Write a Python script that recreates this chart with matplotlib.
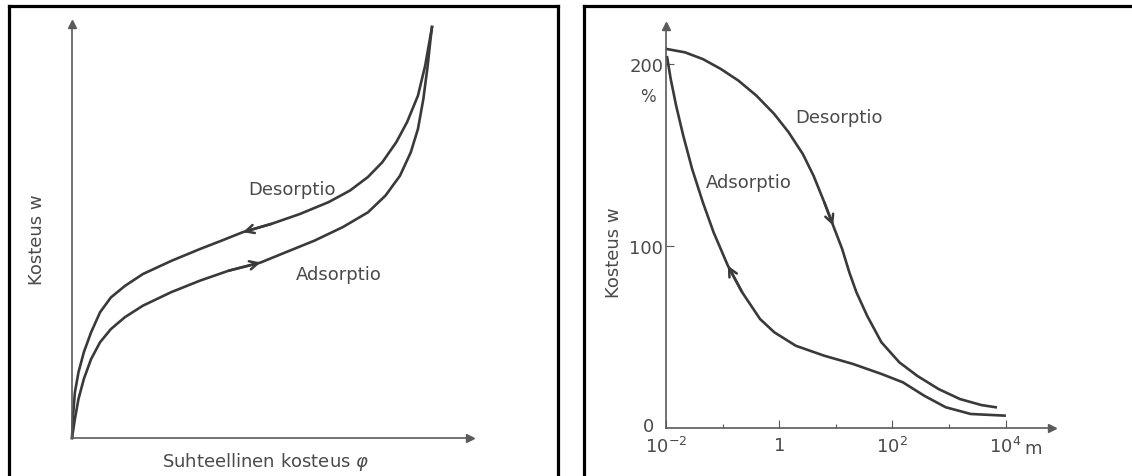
import numpy as np
import matplotlib.pyplot as plt
from matplotlib.lines import Line2D

# vasen kuva: sorptiokäyrät, suhteellinen kosteus phi (0..1) ja kosteus w (0..1)
des_phi = [0.0, 0.003, 0.008, 0.018, 0.033, 0.053, 0.078, 0.108, 0.147, 0.197, 0.276, 0.356, 0.415,
           0.475, 0.554, 0.633, 0.713, 0.772, 0.822, 0.862, 0.901, 0.931, 0.961, 0.981, 1.0]
des_w = [0.0, 0.055, 0.111, 0.160, 0.209, 0.257, 0.306, 0.342, 0.370, 0.399, 0.431, 0.460, 0.480,
         0.501, 0.521, 0.545, 0.574, 0.602, 0.635, 0.671, 0.720, 0.769, 0.833, 0.906, 1.0]
ads_phi = [0.0, 0.008, 0.018, 0.033, 0.053, 0.078, 0.108, 0.147, 0.197, 0.276, 0.356, 0.435, 0.524,
           0.594, 0.673, 0.752, 0.822, 0.871, 0.911, 0.941, 0.961, 0.976, 0.988, 0.996, 1.0]
ads_w = [0.0, 0.046, 0.095, 0.144, 0.192, 0.233, 0.265, 0.294, 0.322, 0.355, 0.383, 0.407, 0.427,
         0.452, 0.480, 0.513, 0.549, 0.590, 0.638, 0.695, 0.752, 0.825, 0.906, 0.971, 1.0]

# oikea kuva: kosteus w (%) imupaineen m funktiona, m = 10**eksponentti
des_exp = [-1.98, -1.664, -1.349, -1.033, -0.717, -0.402, -0.087, 0.166, 0.418, 0.607, 0.797, 0.954,
           1.112, 1.239, 1.364, 1.553, 1.806, 2.122, 2.437, 2.816, 3.194, 3.573, 3.825]
des_pct = [208.2, 206.4, 202.7, 197.3, 190.8, 182.6, 172.5, 162.5, 150.5, 138.6, 124.0, 111.2,
           98.4, 85.5, 74.6, 61.7, 47.1, 36.1, 28.7, 21.4, 15.9, 12.6, 11.4]
ads_exp = [-1.98, -1.917, -1.821, -1.695, -1.538, -1.349, -1.159, -0.907, -0.655, -0.339, -0.087,
           0.292, 0.797, 1.302, 1.806, 2.185, 2.564, 2.942, 3.384, 3.982]
ads_pct = [203.7, 191.8, 177.1, 160.6, 142.3, 124.0, 107.5, 89.2, 74.6, 59.9, 52.6,
           45.2, 39.7, 35.2, 29.7, 25.1, 17.7, 11.4, 7.7, 6.8]

x_ticks = [1e-2, 1, 1e2, 1e4]
x_labels = [r'$10^{-2}$', '1', r'$10^{2}$', r'$10^{4}$']
x_minor = [1e-1, 1e1, 1e3]
y_ticks = [100, 200]
y_labels = ['100', '200']

des_m = [10 ** e for e in des_exp]
ads_m = [10 ** e for e in ads_exp]

W, H = 1132, 477
curve_col = '#3a3a3a'
axis_col = '#5a5a5a'
text_col = '#4a4a4a'
fs = 13

fig = plt.figure(figsize=(W / 100, H / 100), dpi=100)
fig.patch.set_facecolor('white')


def fx(px):
    return px / W


def fy(py):
    return 1 - py / H


# kehykset
for xs, ys in [([9, 9], [7, H + 5]), ([9, 558], [7, 7]), ([558, 558], [7, H + 5]),
               ([584, 584], [7, H + 5]), ([584, W + 5], [7, 7])]:
    fig.add_artist(Line2D([fx(x) for x in xs], [fy(y) for y in ys], color='black', lw=2.3,
                          solid_capstyle='projecting'))


def arrow_axes(ax):
    for s in ['top', 'right']:
        ax.spines[s].set_visible(False)
    for s in ['left', 'bottom']:
        ax.spines[s].set_color(axis_col)
        ax.spines[s].set_linewidth(1.2)
    ax.plot(1, 0, '>', color=axis_col, ms=6, transform=ax.transAxes, clip_on=False)
    ax.plot(0, 1, '^', color=axis_col, ms=6, transform=ax.transAxes, clip_on=False)
    ax.patch.set_alpha(0)


def curve_arrow(ax, xs, ys, i, j):
    # avoin nuolenkärki käyrän päällä pisteestä i pisteeseen j
    ax.annotate('', xy=(xs[j], ys[j]), xytext=(xs[i], ys[i]),
                arrowprops=dict(arrowstyle='->,head_length=0.6,head_width=0.3', color=curve_col,
                                lw=1.8, shrinkA=0, shrinkB=0))


# ---- vasen ----
ax1 = fig.add_axes([fx(72), fy(439), (470 - 72) / W, (439 - 25) / H])
ax1.set_xlim(0, 398 / 360)
ax1.set_ylim(0, 414 / 411)
arrow_axes(ax1)
ax1.set_xticks([])
ax1.set_yticks([])
ax1.plot(des_phi, des_w, color=curve_col, lw=1.9, clip_on=False)
ax1.plot(ads_phi, ads_w, color=curve_col, lw=1.9, clip_on=False)
curve_arrow(ax1, des_phi, des_w, 14, 13)
curve_arrow(ax1, ads_phi, ads_w, 11, 12)
ax1.text(0.61, 0.606, 'Desorptio', color=text_col, fontsize=fs, ha='center', va='center')
ax1.text(0.74, 0.40, 'Adsorptio', color=text_col, fontsize=fs, ha='center', va='center')
fig.text(fx(37), fy(240), 'Kosteus w', rotation=90, color=text_col, fontsize=fs, ha='center', va='center')
fig.text(fx(266), fy(462), 'Suhteellinen kosteus $\\varphi$', color=text_col, fontsize=fs,
         ha='center', va='center')

# ---- oikea ----
ax2 = fig.add_axes([fx(666), fy(429), (1052 - 666) / W, (429 - 27) / H])
ax2.set_xscale('log')
ax2.set_xlim(1e-2, 10 ** (-2 + 386 / 56.6))
ax2.set_ylim(0, 402 / 1.82)
arrow_axes(ax2)
ax2.set_xticks(x_ticks)
ax2.set_xticklabels(x_labels)
ax2.set_xticks(x_minor, minor=True)
ax2.set_xticklabels([], minor=True)
ax2.set_yticks(y_ticks)
ax2.set_yticklabels(y_labels)
ax2.tick_params(axis='both', which='major', direction='in', length=6, width=0.8, colors=axis_col,
                labelcolor=text_col, labelsize=fs)
ax2.tick_params(axis='x', which='minor', direction='in', length=3, width=0.8, colors=axis_col)
ax2.tick_params(axis='y', pad=2)
ax2.tick_params(axis='x', pad=6)
ax2.plot(des_m, des_pct, color=curve_col, lw=1.9, clip_on=False)
ax2.plot(ads_m, ads_pct, color=curve_col, lw=1.9, clip_on=False)
curve_arrow(ax2, des_m, des_pct, 10, 11)
curve_arrow(ax2, ads_m, ads_pct, 8, 7)
fig.text(fx(649), fy(427), '0', color=text_col, fontsize=fs, ha='center', va='center')
fig.text(fx(648), fy(97), '%', color=text_col, fontsize=12, ha='center', va='center')
fig.text(fx(1033), fy(449), 'm', color=text_col, fontsize=fs, ha='center', va='center')
fig.text(fx(614), fy(253), 'Kosteus w', rotation=90, color=text_col, fontsize=fs, ha='center', va='center')
fig.text(fx(839), fy(118), 'Desorptio', color=text_col, fontsize=fs, ha='center', va='center')
fig.text(fx(749), fy(183), 'Adsorptio', color=text_col, fontsize=fs, ha='center', va='center')

fig.savefig('out.png', dpi=100, facecolor='white')
